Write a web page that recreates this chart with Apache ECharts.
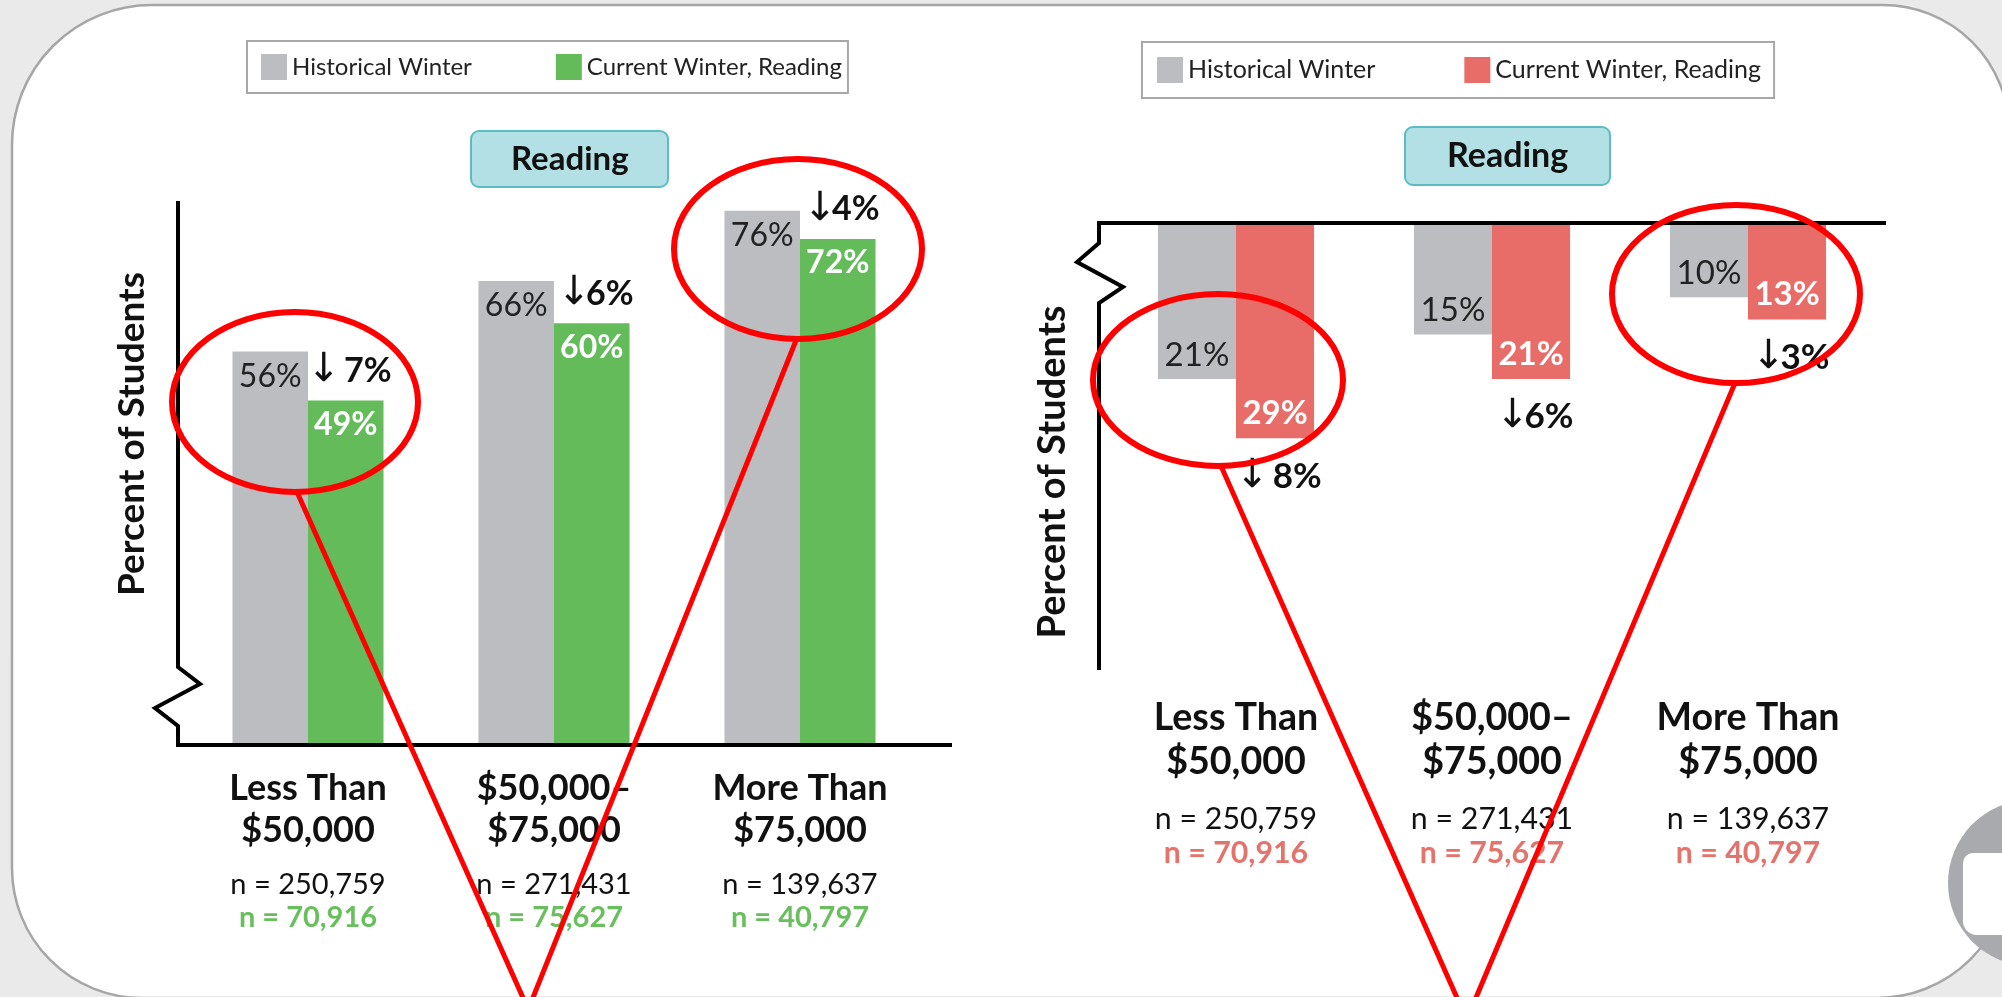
<!DOCTYPE html>
<html>
<head>
<meta charset="utf-8">
<script src="https://cdn.jsdelivr.net/npm/echarts@6/dist/echarts.min.js"></script>
<style>
  html, body { margin: 0; padding: 0; background: #eaeaea; }
  #chart { width: 2002px; height: 997px; }
</style>
</head>
<body>
<div id="chart"></div>
<script>
// Reading, historical vs current winter, by household income (two panels).
var categories = ['Less Than\n$50,000', '$50,000–\n$75,000', 'More Than\n$75,000'];
var seriesNames = ['Historical Winter', 'Current Winter, Reading'];

// left panel: bars rise from the baseline
var leftHistorical = [56, 66, 76];
var leftCurrent = [49, 60, 72];
var leftDrops = ['↓ 7%', '↓6%', '↓4%'];

// right panel: bars hang from the top line
var rightHistorical = [21, 15, 10];
var rightCurrent = [29, 21, 13];
var rightDrops = ['↓ 8%', '↓6%', '↓3%'];

var nHistorical = [250759, 271431, 139637];
var nCurrent = [70916, 75627, 40797];

var FONT = "Lato, 'Open Sans', sans-serif";
var GRAY = '#bcbdc1', GREEN = '#63bb5a', RED = '#e86d68';
var GREEN_TXT = '#69be5e', RED_TXT = '#e2736d';

// hand-drawn frame pieces (axis lines with the break zigzag), pixel layout
var axisPaths = [
  [[178, 201], [178, 667], [200, 684], [155, 708], [178, 726], [178, 745], [952, 745]],
  [[1886, 223], [1099, 223], [1099, 243], [1077, 262], [1123, 287], [1099, 303], [1099, 670]]
];
// red call-out rings and their pointer lines
var callouts = [
  { cx: 295, cy: 402, rx: 123, ry: 90, from: [297, 492], to: [524, 1000] },
  { cx: 798, cy: 249, rx: 124, ry: 90, from: [797, 338], to: [532, 1000] },
  { cx: 1218, cy: 380, rx: 125, ry: 86, from: [1221, 466], to: [1458, 1000] },
  { cx: 1736, cy: 294, rx: 124, ry: 89, from: [1735, 383], to: [1475, 1000] }
];

function fmtN(v) { return v.toLocaleString('en-US'); }

function panelSeries(p) {
  var hanging = p.hanging;
  var fs = p.fs;
  var hist = {
    type: 'bar', name: seriesNames[0], xAxisIndex: p.idx, yAxisIndex: p.idx,
    data: p.hist, barGap: 0, barCategoryGap: p.gap,
    itemStyle: { color: GRAY },
    label: {
      show: true, position: hanging ? 'insideBottom' : 'insideTop', distance: hanging ? 7 : 8,
      formatter: '{c}%', color: '#222', fontFamily: FONT, fontSize: fs, lineHeight: 34
    }
  };
  var cur = {
    type: 'bar', name: seriesNames[1], xAxisIndex: p.idx, yAxisIndex: p.idx,
    data: p.cur, barGap: 0, barCategoryGap: p.gap,
    itemStyle: { color: p.color },
    label: {
      show: true,
      position: hanging ? 'insideBottom' : 'insideTop',
      distance: hanging ? 5 : 7,
      offset: hanging ? [0, 89] : [0, -73],
      formatter: function (d) {
        var drop = p.drops[d.dataIndex];
        var dropTxt = '{a|' + drop.charAt(0) + '}{d|' + drop.slice(1) + '}';
        var valTxt = '{v|' + d.value + '%}';
        return hanging ? valTxt + '\n' + dropTxt : dropTxt + '\n' + valTxt;
      },
      rich: {
        a: { fontFamily: 'DejaVu Sans', fontSize: 40, color: '#111', lineHeight: p.dropLH, width: 24, align: 'center', padding: [0, 0, 0, 12] },
        d: { fontFamily: FONT, fontWeight: 'bold', fontSize: fs + 2, color: '#111', lineHeight: p.dropLH },
        v: { fontFamily: FONT, fontWeight: 'bold', fontSize: fs, color: '#fff', lineHeight: 34 }
      }
    }
  };
  return [hist, cur];
}

function catAxis(idx, margin, s, nColor) {
  return {
    type: 'category', gridIndex: idx, data: categories, position: 'bottom',
    axisLine: { show: false }, axisTick: { show: false },
    axisLabel: {
      interval: 0, margin: margin,
      formatter: function (v, i) {
        var parts = v.split('\n');
        return '{c|' + parts[0] + '}\n{c|' + parts[1] + '}\n{s| }\n' +
          '{n|n = ' + fmtN(nHistorical[i]) + '}\n{m|n = ' + fmtN(nCurrent[i]) + '}';
      },
      rich: {
        c: { fontFamily: FONT, fontWeight: 'bold', fontSize: 36 * s, lineHeight: 42 * s, color: '#111' },
        s: { fontSize: 10, lineHeight: 17 * s },
        n: { fontFamily: FONT, fontSize: 29 * s, lineHeight: 33 * s, color: '#111' },
        m: { fontFamily: FONT, fontWeight: 'bold', fontSize: 29 * s, lineHeight: 33 * s, color: nColor }
      }
    }
  };
}

function legendFor(left, top, pad, gap, widths, fs, curColor) {
  return {
    left: left, top: top, orient: 'horizontal', padding: pad, itemGap: gap,
    itemWidth: 26, itemHeight: 26, icon: 'rect', selectedMode: false,
    borderColor: '#a8a8a8', borderWidth: 2,
    textStyle: { fontFamily: FONT, fontSize: fs, color: '#222' },
    data: [
      { name: seriesNames[0], itemStyle: { color: GRAY }, textStyle: { width: widths[0] } },
      { name: seriesNames[1], itemStyle: { color: curColor }, textStyle: { width: widths[1] } }
    ]
  };
}

function titleBox(left, top, pad, fs) {
  return {
    text: 'Reading', left: left, top: top, padding: pad,
    backgroundColor: '#b3e0e4', borderColor: '#5bbcc3', borderWidth: 2, borderRadius: 8,
    textStyle: { fontFamily: FONT, fontSize: fs, fontWeight: 'bold', color: '#111', lineHeight: 36 }
  };
}

var graphics = [
  {
    type: 'rect', z: -10,
    shape: { x: 12, y: 5, width: 1997, height: 993, r: [140, 126, 132, 130] },
    style: { fill: '#fff', stroke: '#a6a6a6', lineWidth: 2.5 }
  },
  { type: 'circle', z: 1, shape: { cx: 2031, cy: 883, r: 83 }, style: { fill: '#a9aaae' } },
  { type: 'rect', z: 1, shape: { x: 1963, y: 853, width: 60, height: 82, r: [10, 0, 0, 14] }, style: { fill: '#fff' } },
  {
    type: 'text', x: 132, y: 434, rotation: Math.PI / 2,
    style: { text: 'Percent of Students', font: 'bold 37px ' + FONT, fill: '#111', align: 'center', verticalAlign: 'middle' }
  },
  {
    type: 'text', x: 1053, y: 472, rotation: Math.PI / 2,
    style: { text: 'Percent of Students', font: 'bold 38px ' + FONT, fill: '#111', align: 'center', verticalAlign: 'middle' }
  }
];
axisPaths.forEach(function (pts) {
  graphics.push({ type: 'polyline', z: 10, shape: { points: pts }, style: { stroke: '#000', lineWidth: 4, fill: null } });
});
callouts.forEach(function (c) {
  graphics.push({ type: 'ellipse', z: 20, shape: { cx: c.cx, cy: c.cy, rx: c.rx, ry: c.ry }, style: { stroke: '#f00', lineWidth: 6, fill: null } });
  graphics.push({ type: 'line', z: 20, shape: { x1: c.from[0], y1: c.from[1], x2: c.to[0], y2: c.to[1] }, style: { stroke: '#f00', lineWidth: 5 } });
});

var chart = echarts.init(document.getElementById('chart'));
chart.setOption({
  backgroundColor: 'transparent',
  animation: false,
  title: [titleBox(471, 131, [10, 40], 33), titleBox(1405, 127, [11, 42], 34)],
  legend: [
    legendFor(247, 41, [13, 6, 13, 14], 84, [180, 260], 24, GREEN),
    legendFor(1142, 42, [15, 13, 15, 15], 89, [190, 272], 25, RED)
  ],
  grid: [
    { left: 185, top: 201, width: 738, height: 544 },
    { left: 1108, top: 223, width: 768, height: 447 }
  ],
  xAxis: [catAxis(0, 22, 1, GREEN_TXT), catAxis(1, 26, 1.045, RED_TXT)],
  yAxis: [
    { type: 'value', gridIndex: 0, min: 0, max: 77.4, show: false },
    { type: 'value', gridIndex: 1, min: 0, max: 60.2, inverse: true, show: false }
  ],
  series: panelSeries({ idx: 0, hist: leftHistorical, cur: leftCurrent, drops: leftDrops, color: GREEN, hanging: false, fs: 32, gap: '38.6%', dropLH: 73 })
    .concat(panelSeries({ idx: 1, hist: rightHistorical, cur: rightCurrent, drops: rightDrops, color: RED, hanging: true, fs: 33, gap: '39%', dropLH: 92 })),
  graphic: graphics
});
</script>
</body>
</html>
